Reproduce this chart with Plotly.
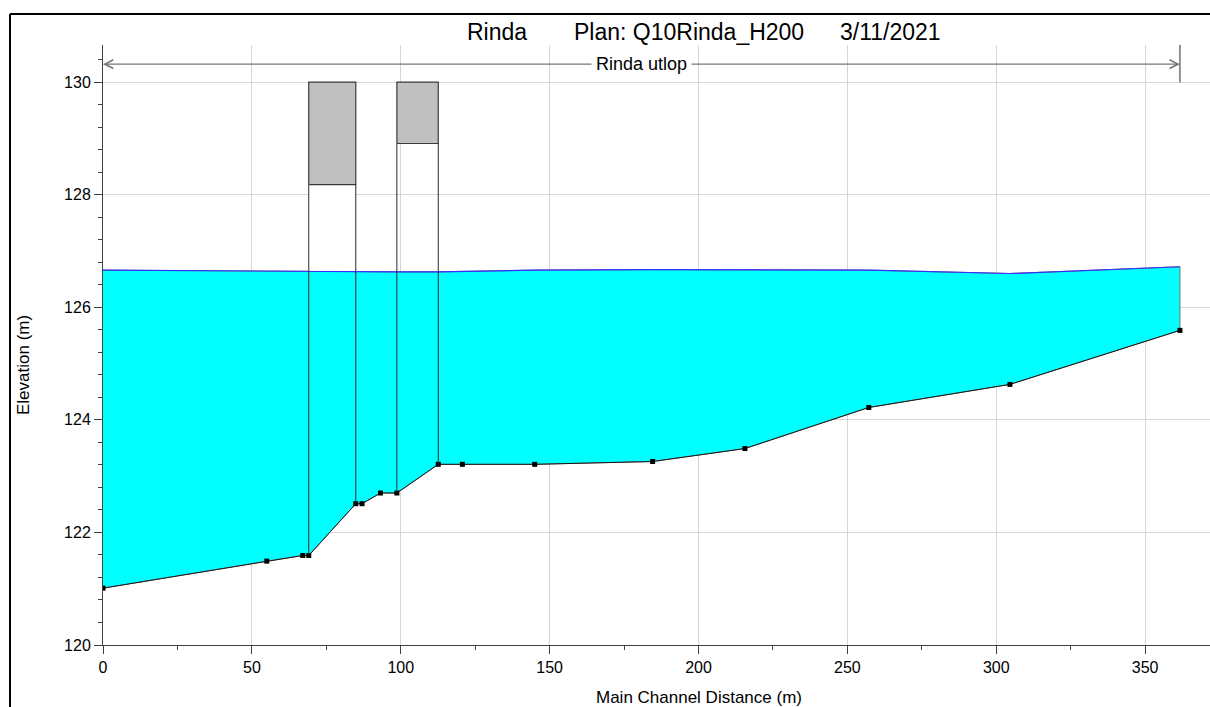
import numpy as np
import plotly.graph_objects as go

# Lengdeprofil (stasjon i m, kote i m)
stasjon = [0, 55.0, 67.1, 69.1, 84.9, 87.0, 93.2, 98.7, 112.6, 120.7,
           145.0, 184.6, 215.6, 257.2, 304.6, 361.7]
bunn = [121.01, 121.49, 121.59, 121.59, 122.51, 122.51, 122.70, 122.70, 123.21, 123.21,
        123.21, 123.26, 123.49, 124.22, 124.63, 125.59]
vannspeil = [126.66, 126.64, 126.63, 126.63, 126.63, 126.63, 126.63, 126.63, 126.63, 126.64,
             126.66, 126.67, 126.67, 126.66, 126.60, 126.72]

# Bruer
bro_venstre = [69.1, 98.7]
bro_hoyre = [84.9, 112.6]
bro_underkant = [128.18, 128.91]
bro_overkant = [130.0, 130.0]
bro_hvit_apning = [True, False]

# Strekning
strekning = "Rinda utlop"
strekning_fra, strekning_til = 0, 361.7
strekning_kote = 130.32

tittel_deler = ["Rinda", "Plan: Q10Rinda_H200", "3/11/2021"]

# Figurmål
W, H = 1210, 707
ML, MR, MT, MB = 103, 0, 45, 62
xrange_ = [0, 371.8]
yrange_ = [120, 130.66]
FONT = "Liberation Sans, Arial, sans-serif"


def px_x(px):
    return (px - ML) / (W - ML - MR)


def px_y(py):
    return (H - MB - py) / (H - MT - MB)


fig = go.Figure()

# Vannflate (fylt mellom vannspeil og bunn)
fig.add_trace(go.Scatter(
    x=stasjon + stasjon[::-1],
    y=vannspeil + bunn[::-1],
    fill='toself', fillcolor='#00ffff',
    mode='lines', line=dict(color='#707070', width=1),
    hoverinfo='skip', showlegend=False
))
fig.add_trace(go.Scatter(
    x=stasjon, y=vannspeil, mode='lines',
    line=dict(color='#3030ff', width=1.2), showlegend=False
))

# Hvit åpning under bru 1 (skjuler rutenett)
for i in range(len(bro_venstre)):
    if bro_hvit_apning[i]:
        ws_v = float(np.interp(bro_venstre[i], stasjon, vannspeil)) + 0.02
        ws_h = float(np.interp(bro_hoyre[i], stasjon, vannspeil)) + 0.02
        fig.add_trace(go.Scatter(
            x=[bro_venstre[i], bro_hoyre[i], bro_hoyre[i], bro_venstre[i], bro_venstre[i]],
            y=[ws_v, ws_h, bro_underkant[i], bro_underkant[i], ws_v],
            fill='toself', fillcolor='white', mode='none',
            hoverinfo='skip', showlegend=False
        ))

# Bunnlinje med punkter
fig.add_trace(go.Scatter(
    x=stasjon, y=bunn, mode='lines+markers',
    line=dict(color='#1a1a1a', width=1),
    marker=dict(symbol='square', size=5, color='black'),
    showlegend=False
))

# Bruer: dekke + vertikale linjer ned til bunn
for i in range(len(bro_venstre)):
    v, h = bro_venstre[i], bro_hoyre[i]
    lo, hi = bro_underkant[i], bro_overkant[i]
    fig.add_trace(go.Scatter(
        x=[v, h, h, v, v], y=[lo, lo, hi, hi, lo],
        fill='toself', fillcolor='#c0c0c0', mode='lines',
        line=dict(color='#3a3a3a', width=1.2),
        hoverinfo='skip', showlegend=False
    ))
    fig.add_trace(go.Scatter(
        x=[v, v, None, h, h],
        y=[lo, float(np.interp(v, stasjon, bunn)), None,
           lo, float(np.interp(h, stasjon, bunn))],
        mode='lines', line=dict(color='#2a2a2a', width=1),
        hoverinfo='skip', showlegend=False
    ))

# Strekningspil
midt = (strekning_fra + strekning_til) / 2
for ende in (strekning_fra, strekning_til):
    fig.add_annotation(
        x=ende, y=strekning_kote, ax=midt, ay=strekning_kote,
        xref='x', yref='y', axref='x', ayref='y',
        text='', showarrow=True, arrowhead=5, arrowsize=1.4,
        arrowwidth=1.2, arrowcolor='#777777', standoff=0
    )
fig.add_annotation(
    x=midt, y=strekning_kote, xref='x', yref='y', text=strekning,
    showarrow=False, bgcolor='white', borderpad=4,
    font=dict(family=FONT, size=18, color='black')
)
fig.add_shape(type='line', xref='x', yref='y',
              x0=strekning_til, x1=strekning_til, y0=130.0, y1=yrange_[1],
              line=dict(color='#707070', width=1.5))

# Tittel i tre deler
for tekst, px in zip(tittel_deler, [465, 572, 838]):
    fig.add_annotation(
        x=px_x(px), y=px_y(32), xref='paper', yref='paper',
        xanchor='left', yanchor='middle', text=tekst, showarrow=False,
        font=dict(family=FONT, size=23, color='black')
    )

# Aksetitler
fig.add_annotation(
    x=px_x(699), y=px_y(697), xref='paper', yref='paper',
    xanchor='center', yanchor='middle',
    text='Main Channel Distance (m)', showarrow=False,
    font=dict(family=FONT, size=17, color='black')
)
fig.add_annotation(
    x=px_x(23), y=px_y(365), xref='paper', yref='paper',
    xanchor='center', yanchor='middle',
    text='Elevation (m)', textangle=-90, showarrow=False,
    font=dict(family=FONT, size=17, color='black')
)

# Ramme
fig.add_shape(type='line', xref='paper', yref='paper',
              x0=px_x(10), x1=px_x(10), y0=px_y(14), y1=px_y(720),
              line=dict(color='black', width=2))
fig.add_shape(type='line', xref='paper', yref='paper',
              x0=px_x(10), x1=px_x(1220), y0=px_y(14), y1=px_y(14),
              line=dict(color='black', width=2))

akse = dict(
    showgrid=True, gridcolor='#d6d6d6', gridwidth=1,
    showline=True, linecolor='#404040', linewidth=1,
    ticks='outside', ticklen=8, tickcolor='#404040', tickwidth=1,
    zeroline=False, tickfont=dict(family=FONT, size=16, color='black'),
)
fig.update_xaxes(range=xrange_, tick0=0, dtick=50,
                 minor=dict(dtick=25, ticklen=4, tickcolor='#404040', showgrid=False, ticks='outside'),
                 **akse)
fig.update_yaxes(range=yrange_, tick0=120, dtick=2,
                 minor=dict(dtick=0.4, ticklen=4, tickcolor='#404040', showgrid=False, ticks='outside'),
                 **akse)

fig.update_layout(
    width=W, height=H,
    margin=dict(l=ML, r=MR, t=MT, b=MB),
    paper_bgcolor='white', plot_bgcolor='white',
    showlegend=False,
    font=dict(family=FONT)
)

# Fjern standardmarg rundt siden så figuren starter i hjørnet
fig.write_html("out.html", config={'displayModeBar': False},
               post_script="document.body.style.margin='0';document.body.style.overflow='hidden';")
